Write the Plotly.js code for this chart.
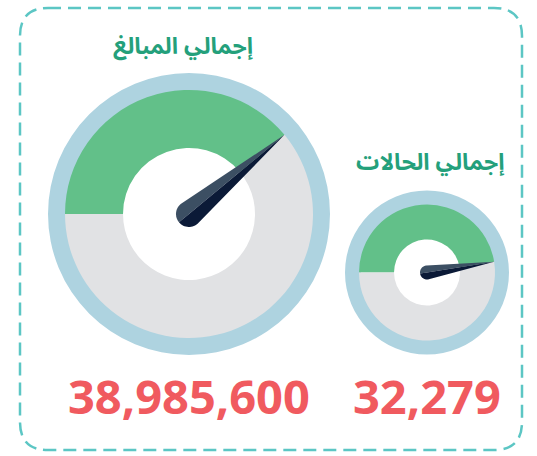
<!DOCTYPE html>
<html>
<head>
<meta charset="utf-8">
<script src="https://cdn.plot.ly/plotly-3.0.1.min.js"></script>
<style>html,body{margin:0;padding:0;background:#fff;}#chart{width:537px;height:456px;}</style>
</head>
<body>
<div id="chart"></div>
<script>
// ---- data ----
const gaugeTitles = ['إجمالي المبالغ', 'إجمالي الحالات'];
const gaugeValues = [38985600, 32279];
const gaugeMax = [100000000, 68000];

// ---- layout constants (pixels) ----
const W = 537, H = 456;
const geom = [
  {cx: 189, cy: 214, rOuter: 141, rRing: 124, rHole: 66, needleW: 13, titleX: 183, titleY: 45, numY: 396},
  {cx: 427, cy: 272.5, rOuter: 82, rRing: 68, rHole: 33, needleW: 7, titleX: 430, titleY: 161, numY: 396}
];
const C = {
  outer: '#aed3e0', green: '#62c089', gray: '#e1e2e4',
  needleLight: '#3c4f63', needleDark: '#0b1a37',
  title: '#24a07b', number: '#f05a5f', border: '#5cc6c4'
};

const px = x => x / W;
const py = y => 1 - y / H;

const traces = [];
const shapes = [];
const annotations = [];

gaugeValues.forEach((v, i) => {
  const g = geom[i];
  traces.push({
    type: 'pie', values: [1], sort: false, hole: (g.rRing - 2) / g.rOuter,
    marker: {colors: [C.outer], line: {width: 0}}, textinfo: 'none', hoverinfo: 'skip', showlegend: false,
    domain: {x: [px(g.cx - g.rOuter), px(g.cx + g.rOuter)], y: [py(g.cy + g.rOuter), py(g.cy - g.rOuter)]}
  });
  traces.push({
    type: 'pie', values: [v, gaugeMax[i] - v], sort: false, direction: 'clockwise', rotation: -90,
    hole: g.rHole / g.rRing,
    marker: {colors: [C.green, C.gray], line: {width: 0}}, textinfo: 'none', hoverinfo: 'skip', showlegend: false,
    domain: {x: [px(g.cx - g.rRing), px(g.cx + g.rRing)], y: [py(g.cy + g.rRing), py(g.cy - g.rRing)]}
  });

  // needle from value
  const frac = v / gaugeMax[i];
  const th = Math.PI - frac * 2 * Math.PI;
  const P = (r, a) => [g.cx + r * Math.cos(a), g.cy - r * Math.sin(a)];
  const L = g.rRing;
  const tan = Math.acos(g.needleW / L);
  const half = (sgn) => {
    const pts = [P(L, th)];
    const a0 = th + sgn * tan, a1 = th + sgn * Math.PI;
    const n = 16;
    for (let k = 0; k <= n; k++) pts.push(P(g.needleW, a0 + (a1 - a0) * k / n));
    pts.push([g.cx, g.cy]);
    return 'M' + pts.map(p => px(p[0]).toFixed(5) + ',' + py(p[1]).toFixed(5)).join('L') + 'Z';
  };
  shapes.push({type: 'path', xref: 'paper', yref: 'paper', path: half(1), fillcolor: C.needleLight, line: {width: 0}, layer: 'above'});
  shapes.push({type: 'path', xref: 'paper', yref: 'paper', path: half(-1), fillcolor: C.needleDark, line: {width: 0}, layer: 'above'});

  annotations.push({
    text: '<b>' + gaugeTitles[i] + '</b>', x: px(g.titleX), y: py(g.titleY), xref: 'paper', yref: 'paper',
    xanchor: 'center', yanchor: 'middle', showarrow: false,
    font: {family: 'Noto Sans Arabic UI, Noto Sans Arabic, Noto Kufi Arabic, DejaVu Sans', size: 23, color: C.title}
  });
  annotations.push({
    text: '<b>' + v.toLocaleString('en-US') + '</b>', x: px(g.cx), y: py(g.numY), xref: 'paper', yref: 'paper',
    xanchor: 'center', yanchor: 'middle', showarrow: false,
    font: {family: 'Open Sans', size: 47, color: C.number}
  });
});

// dashed rounded border
(function () {
  const x0 = 20, y0 = 8, x1 = 522, y1 = 450, r = 28;
  const p = (x, y) => px(x).toFixed(5) + ',' + py(y).toFixed(5);
  const path = 'M' + p(x0 + r, y0) + 'L' + p(x1 - r, y0) + 'Q' + p(x1, y0) + ' ' + p(x1, y0 + r) +
    'L' + p(x1, y1 - r) + 'Q' + p(x1, y1) + ' ' + p(x1 - r, y1) +
    'L' + p(x0 + r, y1) + 'Q' + p(x0, y1) + ' ' + p(x0, y1 - r) +
    'L' + p(x0, y0 + r) + 'Q' + p(x0, y0) + ' ' + p(x0 + r, y0) + 'Z';
  shapes.push({type: 'path', xref: 'paper', yref: 'paper', path: path, line: {color: C.border, width: 2.5, dash: '13px,7px'}, layer: 'below'});
})();

const layout = {
  width: W, height: H, margin: {l: 0, r: 0, t: 0, b: 0},
  paper_bgcolor: '#ffffff', plot_bgcolor: '#ffffff',
  showlegend: false, shapes: shapes, annotations: annotations
};
Plotly.newPlot('chart', traces, layout, {displayModeBar: false, staticPlot: true});
</script>
</body>
</html>
